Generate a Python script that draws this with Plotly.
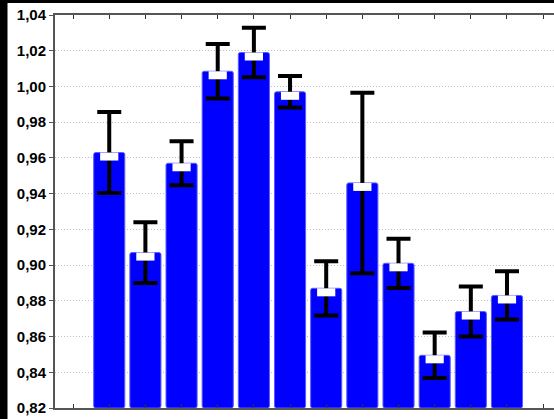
import plotly.graph_objects as go

# data
positions = list(range(1, 13))
means = [0.963, 0.907, 0.957, 1.0085, 1.019, 0.997, 0.887, 0.946, 0.901, 0.8495, 0.874, 0.883]
errors = [0.0227, 0.017, 0.0123, 0.0153, 0.0138, 0.0088, 0.0152, 0.0505, 0.0138, 0.0127, 0.014, 0.0135]
y_ticks = [0.82, 0.84, 0.86, 0.88, 0.90, 0.92, 0.94, 0.96, 0.98, 1.00, 1.02, 1.04]
x_ticks = list(range(0, 14))

Y_MIN, Y_MAX = 0.82, 1.04
W, H = 554, 419
ML, MR, MT, MB = 55, 0, 15, 11
plot_h = H - MT - MB
plot_w = W - ML - MR
marker_h_px = 8
marker_h = marker_h_px * (Y_MAX - Y_MIN) / plot_h  # white mean marker height in data units

fig = go.Figure()
fig.add_trace(go.Bar(
    x=positions,
    y=[m - Y_MIN for m in means],
    base=Y_MIN,
    width=0.86,
    marker=dict(color="#0000ff", line=dict(color="#5a5aff", width=1), cornerradius=2),
    showlegend=False,
    hoverinfo="skip",
))
# error bars (scatter layer, drawn above bars)
fig.add_trace(go.Scatter(
    x=positions,
    y=means,
    mode="markers",
    marker=dict(size=1, opacity=0),
    error_y=dict(type="data", array=errors, visible=True, color="black", thickness=4, width=12),
    showlegend=False,
    hoverinfo="skip",
))
# white mean markers on top of the error lines
fig.add_trace(go.Scatter(
    x=positions,
    y=[m - marker_h / 2 for m in means],
    mode="markers",
    marker=dict(symbol="line-ew-open", size=13, color="white", line=dict(color="white", width=marker_h_px)),
    showlegend=False,
    hoverinfo="skip",
))

fig.update_layout(
    width=W, height=H,
    margin=dict(l=ML, r=MR, t=MT, b=MB, pad=0, autoexpand=False),
    barmode="overlay",
    paper_bgcolor="white",
    plot_bgcolor="white",
    separators=", ",
    font=dict(family="Liberation Sans, Arial, sans-serif", color="black"),
    shapes=[
        dict(type="rect", xref="paper", yref="paper",
             x0=-ML / plot_w, x1=(7.5 - ML) / plot_w, y0=-MB / plot_h, y1=(plot_h + MT) / plot_h,
             fillcolor="black", line=dict(width=0), layer="above"),
        dict(type="rect", xref="paper", yref="paper",
             x0=-ML / plot_w, x1=1.0, y0=(plot_h + MT - 3) / plot_h, y1=(plot_h + MT) / plot_h,
             fillcolor="black", line=dict(width=0), layer="above"),
    ],
)
fig.update_xaxes(
    range=[-0.5, 13.3],
    tickvals=x_ticks, ticktext=[""] * len(x_ticks),
    ticks="inside", ticklen=4, tickwidth=1, tickcolor="#333",
    showline=True, linecolor="#555", linewidth=2, mirror="allticks",
    showgrid=False, zeroline=False,
)
fig.update_yaxes(
    range=[Y_MIN, Y_MAX],
    tickvals=y_ticks, tickformat=".2f",
    ticks="outside", ticklen=4, tickwidth=1, tickcolor="#555",
    tickfont=dict(size=15, family="Liberation Sans, Arial, sans-serif", color="black", weight="bold"),
    showline=True, linecolor="#555", linewidth=2,
    showgrid=True, gridcolor="#c0c0c0", griddash="1px,2px", gridwidth=1,
    zeroline=False,
)

fig.write_html(
    "out.html",
    config={"displayModeBar": False},
    post_script="document.body.style.margin='0';document.body.style.overflow='hidden';",
)
